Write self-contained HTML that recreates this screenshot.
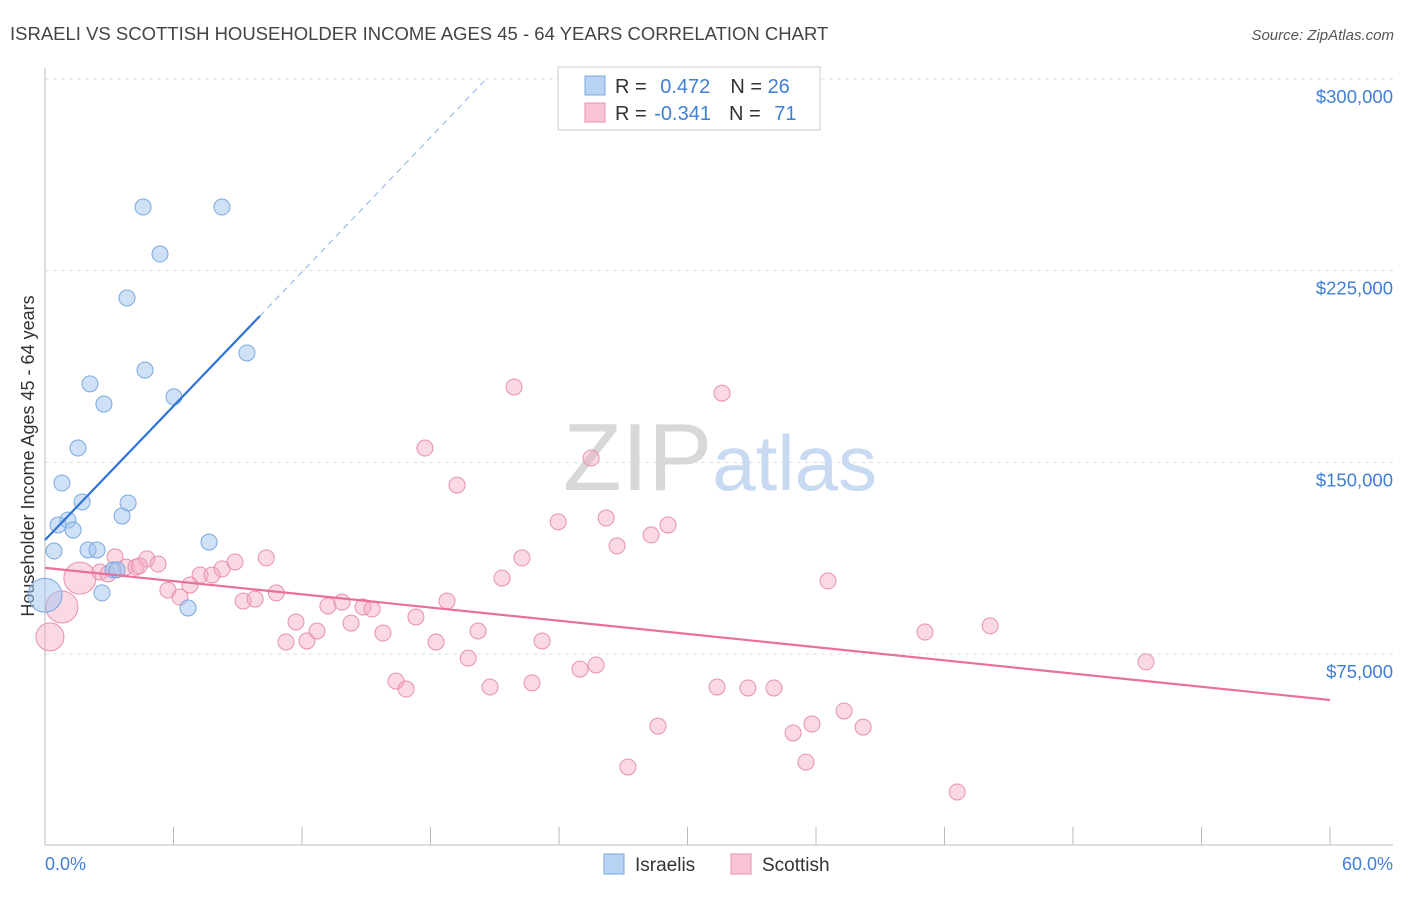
<!DOCTYPE html>
<html><head><meta charset="utf-8"><style>
body{margin:0;background:#fff;font-family:"Liberation Sans",sans-serif;}
svg text{font-family:"Liberation Sans",sans-serif;}
</style></head><body>
<svg id="chart" width="1406" height="892" xmlns="http://www.w3.org/2000/svg">
<text x="10" y="40" font-size="18.5" fill="#444">ISRAELI VS SCOTTISH HOUSEHOLDER INCOME AGES 45 - 64 YEARS CORRELATION CHART</text>
<text x="1394" y="40" font-size="15" fill="#555" text-anchor="end" font-style="italic">Source: ZipAtlas.com</text>
<g id="grid"></g>
<text x="720" y="490" font-size="96" text-anchor="middle" fill="#ddd" font-family="Liberation Serif"><tspan fill="#d8d8d8">ZIP</tspan><tspan fill="#c8daf2" font-family="Liberation Sans" font-size="78">atlas</tspan></text>
<line x1="45" y1="68" x2="45" y2="845" stroke="#bbb"/>
<line x1="45" y1="845" x2="1393" y2="845" stroke="#bbb"/>
<text transform="translate(34,456) rotate(-90)" font-size="18" fill="#333" text-anchor="middle">Householder Income Ages 45 - 64 years</text>
<text x="45" y="870" font-size="18" fill="#3f7fd6">0.0%</text>
<text x="1393" y="870" font-size="18" fill="#3f7fd6" text-anchor="end">60.0%</text>
<g id="marks"></g>
<g>
<rect x="558" y="67" width="262" height="63" fill="#fff" stroke="#ccc"/>
<rect x="585" y="76" width="20" height="19" fill="#b8d2f4" stroke="#7aa8e0"/>
<rect x="585" y="103" width="20" height="19" fill="#f8c4d4" stroke="#e890ac"/>
<text x="615" y="93" font-size="20" fill="#333">R = <tspan fill="#3f7fd6" dx="8">0.472</tspan><tspan dx="20">N = </tspan><tspan fill="#3f7fd6">26</tspan></text>
<text x="615" y="120" font-size="20" fill="#333">R = <tspan fill="#3f7fd6" dx="2">-0.341</tspan><tspan dx="18">N = </tspan><tspan fill="#3f7fd6" dx="8">71</tspan></text>
</g>
<rect x="604" y="854" width="20" height="20" fill="#b8d2f4" stroke="#7aa8e0"/>
<text x="635" y="871" font-size="19" fill="#333">Israelis</text>
<rect x="731" y="854" width="20" height="20" fill="#f8c4d4" stroke="#e890ac"/>
<text x="762" y="871" font-size="19" fill="#333">Scottish</text>
</svg>
<script>
const yTicks=[75000,150000,225000,300000];
const yTickLabels=["$75,000","$150,000","$225,000","$300,000"];
const xTicks=[0,6,12,18,24,30,36,42,48,54,60];
const israeliX=[4.58,8.26,5.37,3.83,9.43,4.67,2.10,6.02,2.75,1.54,0.79,1.73,3.88,3.60,1.07,0.61,1.31,7.66,0.42,2.01,2.43,3.18,3.36,2.66,6.68,0];
const israeliY=[249900,249900,231500,214300,192800,186100,180700,175600,172800,155600,141900,134500,134100,129000,127400,125500,123500,118800,115300,115700,115700,107900,107900,98900,93000,98000];
const israeliR=[8,8,8,8,8,8,8,8,8,8,8,8,8,8,8,8,8,8,8,8,8,8,8,8,8,17];
const scottishX=[0.23,0.79,1.63,2.57,3.27,3.78,4.25,4.76,5.28,5.74,6.3,6.77,7.24,7.8,8.27,8.87,9.25,9.81,10.33,10.8,11.25,11.72,12.23,12.7,13.21,13.87,14.29,14.85,15.27,15.78,16.39,16.86,17.32,17.74,18.26,18.77,19.24,19.76,20.22,20.78,21.34,21.9,22.27,22.74,23.21,23.96,24.98,25.5,25.73,26.2,26.71,27.22,28.3,28.62,29.09,31.38,31.61,32.82,34.04,34.93,35.53,35.81,36.56,37.31,38.2,41.09,42.59,44.13,51.41,2.94,4.4];
const scottishY=[81700,93400,104700,107100,113000,109000,109000,112200,110200,100000,97300,102000,105900,105900,108300,111000,95700,96500,112600,98900,79700,87500,80100,84000,93800,95300,87100,93400,92600,83200,64400,61300,89500,155600,79700,95700,141100,73400,84000,62100,104700,179500,112600,63700,80100,126700,69100,151700,70700,128200,117300,30800,121600,46800,125500,62100,177100,61700,61700,44100,32700,47600,103600,52700,46400,83600,21000,86000,71900,106300,109500];
const scottishR=[14,16,16,8,8,8,8,8,8,8,8,8,8,8,8,8,8,8,8,8,8,8,8,8,8,8,8,8,8,8,8,8,8,8,8,8,8,8,8,8,8,8,8,8,8,8,8,8,8,8,8,8,8,8,8,8,8,8,8,8,8,8,8,8,8,8,8,8,8,8,8];
const israeliTrend=[[0,119600],[10.04,207300],[20.6,300000]];
const scottishTrend=[[0,108700],[60,57000]];
const NS="http://www.w3.org/2000/svg";
const xs=v=>45+v/60*1285;
const ys=v=>654-(v-75000)*191.67/75000;
function mk(tag,attrs,parent){const e=document.createElementNS(NS,tag);for(const k in attrs)e.setAttribute(k,attrs[k]);parent.appendChild(e);return e;}
const grid=document.getElementById('grid'),marks=document.getElementById('marks');
yTicks.forEach((t,i)=>{
 const l=mk('line',{x1:45,x2:1393,y1:ys(t),y2:ys(t),stroke:'#ddd','stroke-dasharray':'4,4'},grid);
 
 
 const tx=mk('text',{x:1393,y:ys(t)+24,'font-size':18.5,fill:'#3f7fd6','text-anchor':'end'},grid);
 tx.textContent=yTickLabels[i];
 
 
});
xTicks.forEach(t=>{
 const l=mk('line',{x1:xs(t),x2:xs(t),y1:827,y2:845,stroke:'#bbb'},grid);
 
 
});
scottishX.forEach((x,i)=>{
 const c=mk('circle',{cx:xs(x),cy:ys(scottishY[i]),r:scottishR[i],fill:'rgba(245,170,195,0.45)',stroke:'#e890ac','stroke-width':1},marks);
 
 
});
israeliX.forEach((x,i)=>{
 const c=mk('circle',{cx:xs(x),cy:ys(israeliY[i]),r:israeliR[i],fill:'rgba(160,195,240,0.5)',stroke:'#7aa8e0','stroke-width':1},marks);
 
 
});
const bt=mk('line',{x1:xs(israeliTrend[0][0]),y1:ys(israeliTrend[0][1]),x2:xs(israeliTrend[1][0]),y2:ys(israeliTrend[1][1]),stroke:'#2f72d8','stroke-width':2.2},marks);


const bd=mk('line',{x1:xs(israeliTrend[1][0]),y1:ys(israeliTrend[1][1]),x2:xs(israeliTrend[2][0]),y2:ys(israeliTrend[2][1]),stroke:'#8ab0e8','stroke-width':1,'stroke-dasharray':'6,5'},marks);


const pt=mk('line',{x1:xs(scottishTrend[0][0]),y1:ys(scottishTrend[0][1]),x2:xs(scottishTrend[1][0]),y2:ys(scottishTrend[1][1]),stroke:'#e8709a','stroke-width':2.2},marks);


</script>
</body></html>
